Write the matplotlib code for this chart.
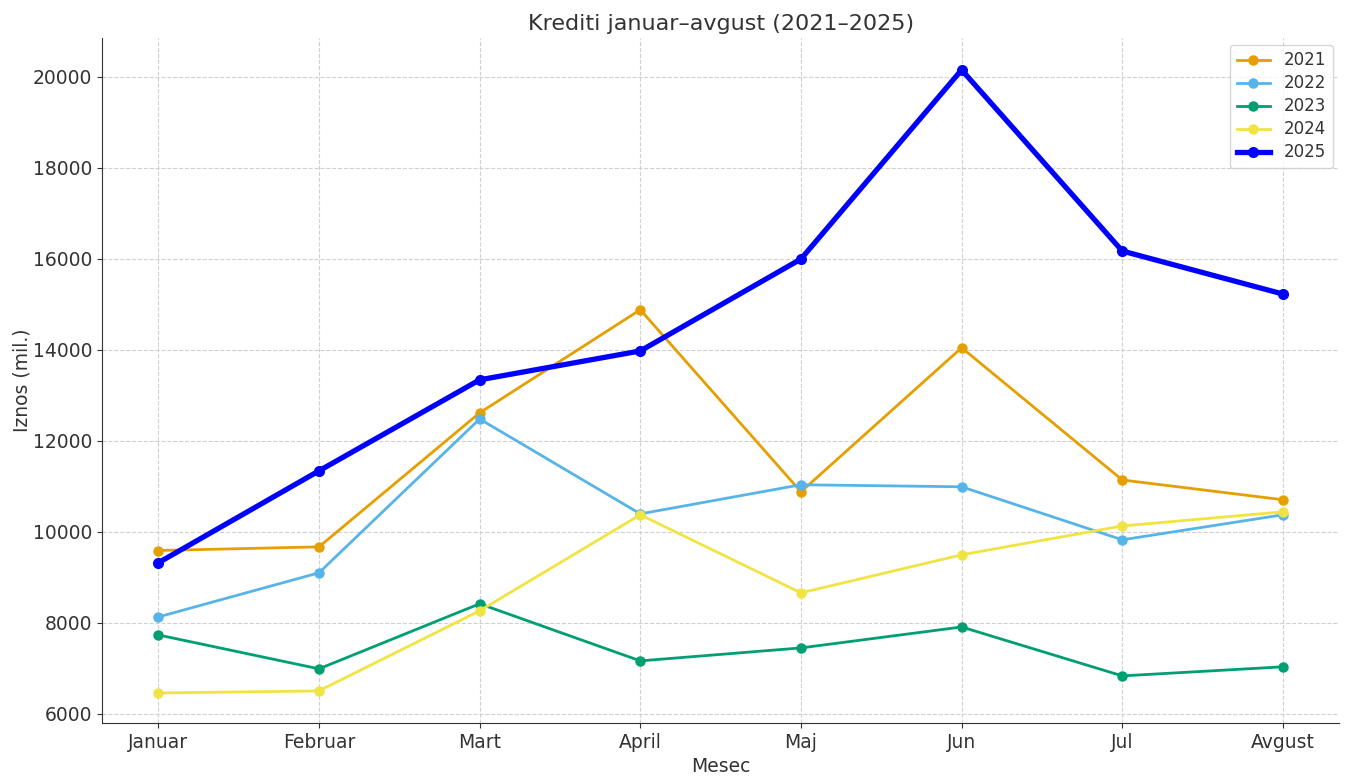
import matplotlib
matplotlib.use("Agg")
import matplotlib.pyplot as plt

meseci = ["Januar", "Februar", "Mart", "April", "Maj", "Jun", "Jul", "Avgust"]
godine = ["2021", "2022", "2023", "2024", "2025"]
k2021 = [9590, 9670, 12615, 14880, 10880, 14045, 11140, 10705]
k2022 = [8130, 9100, 12480, 10395, 11035, 10990, 9825, 10375]
k2023 = [7735, 6990, 8420, 7165, 7450, 7910, 6835, 7035]
k2024 = [6460, 6505, 8265, 10375, 8660, 9495, 10130, 10440]
k2025 = [9320, 11340, 13340, 13975, 15995, 20150, 16170, 15225]

boje = ["#E69F00", "#56B4E9", "#009E73", "#F0E442", "#0000FF"]
serije = [k2021, k2022, k2023, k2024, k2025]

plt.rcParams['text.color'] = '#333333'
plt.rcParams['axes.labelcolor'] = '#333333'
plt.rcParams['xtick.color'] = '#333333'
plt.rcParams['ytick.color'] = '#333333'

fig = plt.figure(figsize=(13.5, 7.84), dpi=100)
ax = fig.add_axes([0.0756, 0.0778, 0.9164, 0.8737])

x = range(len(meseci))
for g, v, c in zip(godine, serije, boje):
    if g == "2025":
        ax.plot(x, v, marker='o', color=c, linewidth=3.8, markersize=7, label=g, zorder=5)
    else:
        ax.plot(x, v, marker='o', color=c, linewidth=2, markersize=6.5, label=g)

ax.set_xticks(list(x))
ax.set_xticklabels(meseci)
ax.set_xlim(-0.35, 7.35)
ax.set_ylim(5800, 20850)
ax.set_yticks(range(6000, 20001, 2000))
ax.tick_params(labelsize=13.5)
ax.grid(True, linestyle='--', color='#d0d0d0', linewidth=0.8)
ax.spines['top'].set_visible(False)
ax.spines['right'].set_visible(False)
ax.spines['left'].set_color('#333333')
ax.spines['bottom'].set_color('#333333')

ax.set_title("Krediti januar–avgust (2021–2025)", fontsize=16)
ax.set_xlabel("Mesec", fontsize=13.5)
ax.set_ylabel("Iznos (mil.)", fontsize=13.5, labelpad=1)
ax.legend(loc='upper right', fontsize=12, labelspacing=0.3, borderaxespad=0.4)

fig.savefig("out.png", dpi=100)
